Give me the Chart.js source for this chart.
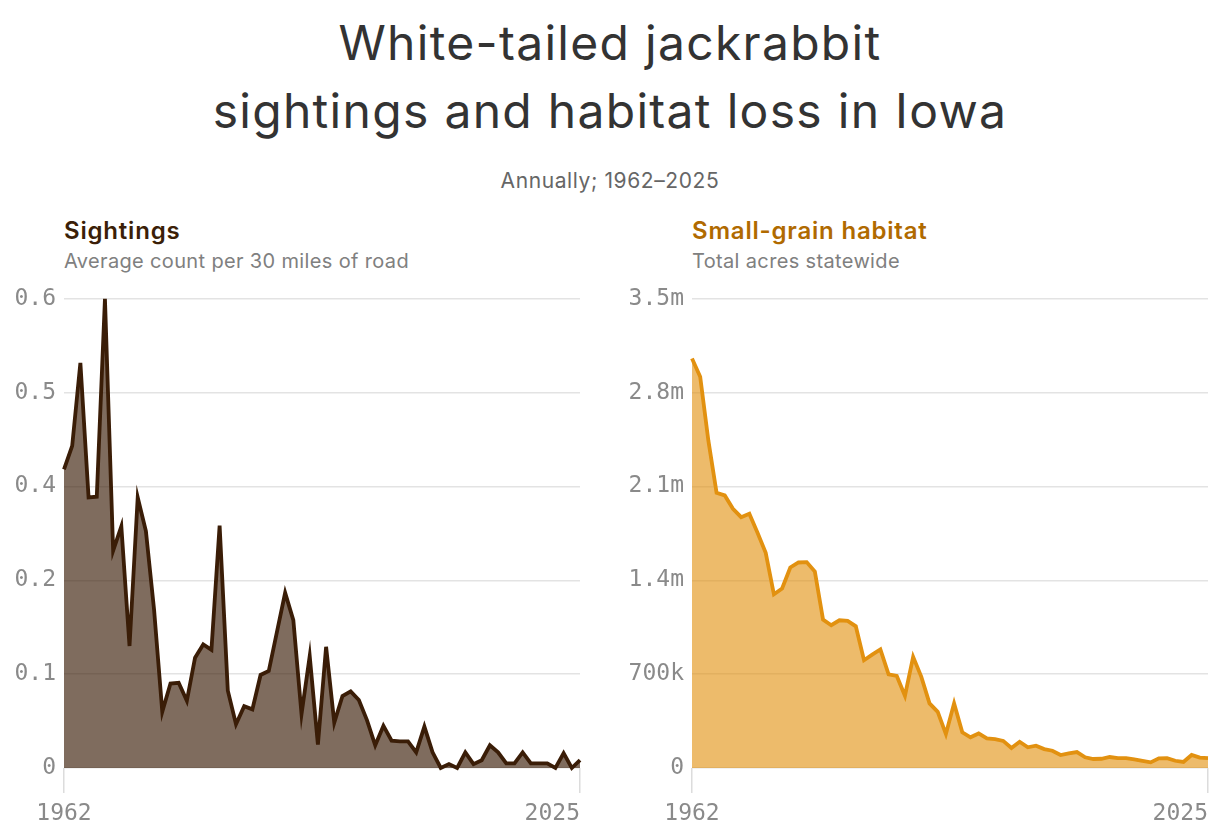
<!DOCTYPE html>
<html>
<head>
<meta charset="utf-8">
<script src="https://cdn.jsdelivr.net/npm/chart.js@4/dist/chart.umd.min.js"></script>
<style>
  html, body { margin: 0; padding: 0; background: #fff; }
  body { width: 1220px; height: 836px; position: relative; overflow: hidden; font-family: Inter, "Noto Sans", sans-serif; }
  #title { position: absolute; left: 0; width: 1220px; top: 9px; text-align: center; font-size: 48px; line-height: 68px; color: #333; font-weight: 400; letter-spacing: 1.3px; }
  #subtitle { position: absolute; left: 0; width: 1220px; top: 168px; text-align: center; font-size: 21px; color: #666; letter-spacing: 0.6px; }
  .head { position: absolute; top: 216px; font-size: 24px; font-weight: 600; letter-spacing: 0.8px; }
  .sub { position: absolute; top: 249px; font-size: 20px; color: #808080; letter-spacing: 0.35px; }
  .wrap { position: absolute; top: 277px; height: 547px; }
</style>
</head>
<body>
<div id="title">White-tailed jackrabbit<br>sightings and habitat loss in Iowa</div>
<div id="subtitle">Annually; 1962–2025</div>
<div class="head" style="left:64px;color:#3b1f08">Sightings</div>
<div class="sub" style="left:64px">Average count per 30 miles of road</div>
<div class="head" style="left:692px;color:#b06a00">Small-grain habitat</div>
<div class="sub" style="left:692px">Total acres statewide</div>
<div class="wrap" style="left:0;width:590px"><canvas id="c1"></canvas></div>
<div class="wrap" style="left:610px;width:608px"><canvas id="c2"></canvas></div>
<script>
const years = [];
for (let y = 1962; y <= 2025; y++) years.push(y);

const sightings = [
  0.382, 0.412, 0.518, 0.346, 0.347, 0.600, 0.278, 0.309, 0.156, 0.346,
  0.303, 0.202, 0.072, 0.108, 0.109, 0.086, 0.141, 0.158, 0.151, 0.310,
  0.099, 0.056, 0.079, 0.075, 0.119, 0.124, 0.174, 0.224, 0.189, 0.069,
  0.143, 0.030, 0.155, 0.058, 0.092, 0.098, 0.087, 0.061, 0.029, 0.054,
  0.035, 0.034, 0.034, 0.020, 0.053, 0.020, 0.000, 0.005, 0.000, 0.020,
  0.005, 0.010, 0.029, 0.020, 0.006, 0.006, 0.020, 0.006, 0.006, 0.006,
  0.000, 0.019, 0.000, 0.010
];

const habitatMillions = [
  3.055, 2.919, 2.442, 2.053, 2.033, 1.934, 1.871, 1.896, 1.755, 1.605,
  1.296, 1.339, 1.496, 1.533, 1.536, 1.465, 1.107, 1.065, 1.102, 1.097,
  1.057, 0.804, 0.846, 0.884, 0.698, 0.687, 0.539, 0.829, 0.680, 0.482,
  0.419, 0.253, 0.482, 0.266, 0.229, 0.258, 0.221, 0.215, 0.202, 0.149,
  0.196, 0.154, 0.166, 0.141, 0.129, 0.097, 0.109, 0.119, 0.080, 0.067,
  0.069, 0.082, 0.074, 0.074, 0.065, 0.054, 0.042, 0.072, 0.074, 0.054,
  0.045, 0.097, 0.077, 0.074
];

const xTickYears = [1962, 2025];
const sightTicks = [0, 0.12, 0.24, 0.36, 0.48, 0.6];
const sightTickLabels = ['0', '0.1', '0.2', '0.4', '0.5', '0.6'];
const habitatTicks = [0, 0.7, 1.4, 2.1, 2.8, 3.5];
const habitatTickLabels = ['0', '700k', '1.4m', '2.1m', '2.8m', '3.5m'];

const monoFont = '"DejaVu Sans Mono", "Liberation Mono", monospace';
const tickColor = '#8a8a8a';

const xLabelPlugin = {
  id: 'xLabels',
  afterDraw(chart) {
    const sx = chart.scales.x;
    const ctx = chart.ctx;
    ctx.save();
    ctx.font = '23px ' + monoFont;
    ctx.fillStyle = tickColor;
    ctx.textBaseline = 'alphabetic';
    xTickYears.forEach((yr, i) => {
      const px = sx.getPixelForValue(yr);
      ctx.textAlign = i === xTickYears.length - 1 ? 'right' : 'center';
      ctx.fillText(String(yr), px, chart.chartArea.bottom + 52);
    });
    ctx.restore();
  }
};

function makeChart(id, values, lineColor, fillColor, yTicks, yLabels, yWidth) {
  const data = years.map((y, i) => ({ x: y, y: values[i] }));
  return new Chart(document.getElementById(id), {
    type: 'line',
    data: {
      datasets: [{
        data: data,
        borderColor: lineColor,
        backgroundColor: fillColor,
        borderWidth: 3.8,
        fill: 'origin',
        pointRadius: 0,
        tension: 0,
        borderJoinStyle: 'miter',
        clip: 6
      }]
    },
    options: {
      responsive: true,
      maintainAspectRatio: false,
      animation: false,
      layout: { padding: { top: 14, right: 10, left: 0, bottom: 0 } },
      plugins: { legend: { display: false }, tooltip: { enabled: false } },
      scales: {
        x: {
          type: 'linear',
          min: 1962,
          max: 2025,
          afterBuildTicks: s => { s.ticks = xTickYears.map(v => ({ value: v })); },
          afterFit: s => { s.height = 56; },
          ticks: { display: false },
          grid: { drawOnChartArea: false, drawTicks: true, tickLength: 25, color: '#dcdcdc', lineWidth: 1.5 },
          border: { display: false }
        },
        y: {
          min: 0,
          max: yTicks[yTicks.length - 1],
          afterBuildTicks: s => { s.ticks = yTicks.map(v => ({ value: v })); },
          afterFit: s => { s.width = yWidth; },
          ticks: {
            color: tickColor,
            padding: 8,
            font: { size: 23, family: monoFont },
            callback: (v, i) => yLabels[i]
          },
          grid: { drawTicks: false, color: '#e3e3e3', lineWidth: 1.5 },
          border: { display: false }
        }
      }
    },
    plugins: [xLabelPlugin]
  });
}

makeChart('c1', sightings, '#3a1d07', 'rgba(58,29,7,0.65)', sightTicks, sightTickLabels, 64);
makeChart('c2', habitatMillions, '#e29110', 'rgba(226,145,16,0.62)', habitatTicks, habitatTickLabels, 82);
</script>
</body>
</html>
